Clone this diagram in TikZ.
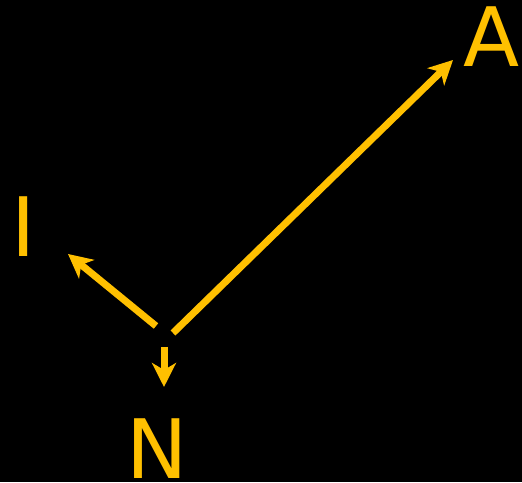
\documentclass[tikz,border=0pt]{standalone}
\usepackage{fontspec}
\setmainfont{DejaVu Sans}
\usepackage{xcolor}
\definecolor{axgold}{HTML}{FFC000}
\usetikzlibrary{arrows.meta}
\tikzset{
  axvec/.style  ={-{Stealth[length=24pt,width=24pt,inset=7pt]}, line width=7pt, draw=axgold},
  axlbl/.style  ={anchor=base, inner sep=0pt, text=axgold, font=\fontsize{82}{90}\selectfont},
}

\begin{document}
\begin{tikzpicture}[x=1pt, y=1pt]
  \fill[black] (0,0) rectangle (522,482);
  \useasboundingbox (0,0) rectangle (522,482);
  % labels
  \node[axlbl] (A) at (491.5,415) {A};
  \node[axlbl] (I) at (23.5,225) {I};
  \node[axlbl] (N) at (157.5,4) {N};
  % start and end points
  \coordinate (sA) at (173,149);
  \coordinate (eA) at (453,422);
  \coordinate (sI) at (156,156);
  \coordinate (eI) at (68,228);
  \coordinate (sN) at (164,135);
  \coordinate (eN) at (164,95);
  \draw[axvec] (sA) -- (eA);
  \draw[axvec] (sI) -- (eI);
  \draw[axvec] (sN) -- (eN);
\end{tikzpicture}
\end{document}
